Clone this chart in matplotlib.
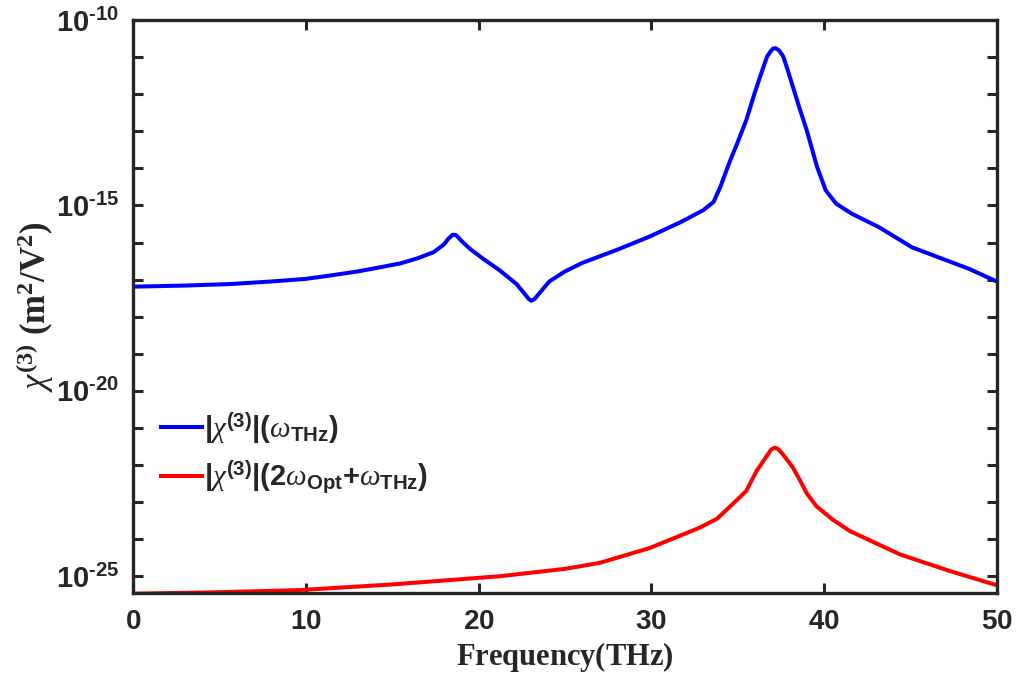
import numpy as np
import matplotlib
matplotlib.use("Agg")
import matplotlib.pyplot as plt
from matplotlib.ticker import FixedLocator, FuncFormatter, NullLocator

# log10 of |chi3| read along frequency (THz)
freq_thz = [0, 3, 5.6, 8, 10, 11.4, 13, 14.5, 15.5, 16.5, 17.4, 18.0, 18.25, 18.5, 18.7,
            19.0, 19.5, 20.3, 21.2, 22.2, 22.7, 22.9, 23.05, 23.25, 23.5, 24.1, 25.0,
            26.0, 28.0, 29.9, 31.7, 33.0, 33.6, 34.0, 34.5, 35.0, 35.5, 36.0, 36.3,
            36.7, 36.9, 37.05, 37.2, 37.4, 37.65, 37.9, 38.2, 38.6, 39.0, 39.6, 40.1,
            40.7, 41.6, 43.2, 45.1, 48.4, 50]
chi_thz_log = [-17.19, -17.16, -17.12, -17.05, -16.98, -16.89, -16.78, -16.65, -16.56,
               -16.42, -16.26, -16.05, -15.90, -15.79, -15.80, -15.95, -16.17, -16.45,
               -16.74, -17.12, -17.40, -17.52, -17.57, -17.52, -17.38, -17.05, -16.78,
               -16.55, -16.20, -15.84, -15.45, -15.13, -14.91, -14.50, -13.87, -13.30,
               -12.70, -11.95, -11.53, -10.99, -10.85, -10.77, -10.76, -10.82, -10.99,
               -11.35, -11.80, -12.40, -12.97, -13.96, -14.59, -14.95, -15.22, -15.59,
               -16.13, -16.71, -17.05]

freq_opt = [0, 5, 9.7, 15, 21.2, 25, 27.0, 29.9, 32.8, 33.8, 34.7, 35.5, 36.1, 36.7,
            36.95, 37.15, 37.35, 37.6, 37.9, 38.2, 38.6, 39.0, 39.56, 40.5, 41.5, 44.4,
            47.3, 50]
chi_opt_log = [-25.47, -25.43, -25.37, -25.22, -25.00, -24.80, -24.64, -24.24, -23.69,
               -23.45, -23.06, -22.70, -22.16, -21.75, -21.58, -21.53, -21.57, -21.70,
               -21.88, -22.07, -22.40, -22.76, -23.11, -23.47, -23.78, -24.41, -24.86,
               -25.24]

decades = list(range(-25, -9))
labeled = [-25, -20, -15, -10]

plt.rcParams['mathtext.fontset'] = 'custom'
plt.rcParams['mathtext.rm'] = 'Liberation Serif:bold'
plt.rcParams['mathtext.bf'] = 'Liberation Serif:bold'
plt.rcParams['mathtext.it'] = 'Liberation Serif:italic'
plt.rcParams['mathtext.sf'] = 'Liberation Sans:bold'

ink = '#262626'

fig = plt.figure(figsize=(10.16, 6.86), dpi=100)
ax = fig.add_axes([0.131, 0.1356, 0.850, 0.8352])

ax.plot(freq_thz, 10.0 ** np.array(chi_thz_log), color='#0000ff', lw=2.9,
        solid_joinstyle='round',
        label=r'$\mathsf{|}\chi^{\mathsf{(3)}}\mathsf{|(}\omega_{\mathsf{THz}}\mathsf{)}$')
ax.plot(freq_opt, 10.0 ** np.array(chi_opt_log), color='#ff0000', lw=2.9,
        solid_joinstyle='round',
        label=r'$\mathsf{|}\chi^{\mathsf{(3)}}\mathsf{|(2}\omega_{\mathsf{Opt}}'
              r'\mathsf{+}\omega_{\mathsf{THz}}\mathsf{)}$')

ax.set_yscale('log')
ax.set_xlim(0, 50)
ax.set_ylim(10 ** -25.45, 1e-10)

ax.xaxis.set_major_locator(FixedLocator([0, 10, 20, 30, 40, 50]))
ax.xaxis.set_major_formatter(FuncFormatter(lambda v, p: r'$\mathsf{%d}$' % v))
ax.yaxis.set_major_locator(FixedLocator([10.0 ** d for d in decades]))
ax.yaxis.set_minor_locator(NullLocator())


def exp_label(v, pos):
    e = int(round(np.log10(v)))
    if e not in labeled:
        return ''
    # short hyphen for the exponent sign
    return '$\\mathsf{10^{\N{HYPHEN}%d}}$' % abs(e)


ax.yaxis.set_major_formatter(FuncFormatter(exp_label))

ax.tick_params(which='major', direction='in', length=7, width=2.2, color=ink,
               top=True, right=True, labelsize=20, labelcolor=ink, pad=10)
ax.tick_params(axis='y', labelsize=21)
for s in ax.spines.values():
    s.set_linewidth(2.4)
    s.set_color(ink)

ax.set_xlabel(r'$\mathrm{Frequency(THz)}$', fontsize=22, color=ink, labelpad=4)
ax.set_ylabel(r'$\chi^{\mathrm{(3)}}\ \mathrm{(m^{2}/V^{2})}$', fontsize=25,
              color=ink, labelpad=0)

leg = ax.legend(loc='center left', bbox_to_anchor=(0.0185, 0.244), frameon=False,
                fontsize=21, handlelength=1.4, handletextpad=0.1,
                borderaxespad=0, labelspacing=0.45)
for t in leg.get_texts():
    t.set_color(ink)

fig.savefig('out.png', dpi=100)
